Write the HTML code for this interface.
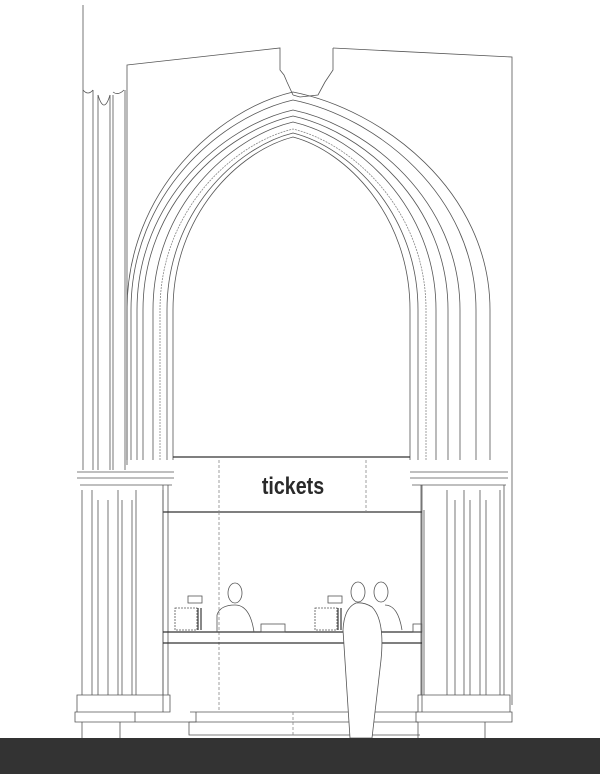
<!DOCTYPE html>
<html><head><meta charset="utf-8"><style>
html,body{margin:0;padding:0;background:#fff}
svg{display:block}
</style></head><body>
<svg id="s" width="600" height="774" viewBox="0 0 600 774" xmlns="http://www.w3.org/2000/svg">
<rect width="600" height="774" fill="#fff"/>
<g id="arches" fill="none" stroke="#555" stroke-width="0.8"></g>
<g fill="none" stroke="#555" stroke-width="0.8">
<path d="M83 5 V90"/>
<path d="M127 465 V65 L280 48 V70 L284 75 L287 82 L293 95"/>
<path d="M333 48 L512 57 V705"/>
<path d="M333 48 V70 L329 76 L325 82 L318 95 L300 97 L293 95"/>
<path d="M83 90 V470 M93 90 V470 M98 95 V470 M110 95 V470 M113 95 V470 M125 90 V470"/>
<path d="M83 90 Q88 96 93 90 M98 95 Q104 115 110 95 M113 92 Q118 96 124 90"/>
<path d="M77 472 H174 M77 478 H174 M80 485 H172 M410 472 H508 M410 478 H508 M412 485 H506"/>
<path d="M82 490 V695 M92 490 V695 M98 500 V695 M108 500 V695 M118 490 V695 M122 500 V695 M132 500 V695 M136 490 V695 M163 490 V695 M168 485 V695"/>
<path d="M421 485 V695 M424 510 V695 M447 490 V695 M455 500 V695 M464 490 V695 M470 500 V695 M480 490 V695 M486 500 V695 M500 490 V695 M504 485 V695"/>
<path d="M77 695 H170 V712 H77 Z M75 712 H135 V722 H75 Z M82 722 V738 M120 722 V738 M120 722 H196 V712"/>
<path d="M418 695 H510 V712 H418 Z M416 712 H512 V722 H416 Z M418 722 V738 M485 722 V738"/>
<path d="M190 712 H418 M189 722 H418 M189 722 V735 H420"/>
<path d="M173 457 H410" stroke="#333" stroke-width="1.2"/>
<path d="M163 512 H422" stroke="#333" stroke-width="1.2"/>
<path d="M219 460 V512 M366 460 V512 M219 512 V712 M293 712 V735" stroke-dasharray="3 2" stroke="#888"/>
<path d="M163 485 V712 M422 485 V712"/>
<path d="M163 632 H422 M163 643 H422" stroke="#333" stroke-width="1.2"/>
<ellipse cx="235" cy="593" rx="7" ry="10"/>
<path d="M217 632 V615 Q220 605 235 605 Q250 605 254 632"/>
<ellipse cx="381" cy="592" rx="7" ry="10"/>
<path d="M385 605 Q398 605 402 630"/>
<rect x="188" y="596" width="14" height="7"/>
<rect x="175" y="608" width="22" height="22" stroke-dasharray="2 1"/>
<path d="M198 608 V630 M201 608 V630" stroke-width="1.4"/>
<rect x="328" y="596" width="14" height="7"/>
<rect x="315" y="608" width="22" height="22" stroke-dasharray="2 1"/>
<path d="M338 608 V630 M341 608 V630" stroke-width="1.4"/>
<rect x="261" y="624" width="24" height="8"/>
<rect x="413" y="624" width="9" height="8"/>
</g>
<path d="M356 603 Q344 608 343 630 L350 738 L372 738 L381 660 Q385 620 372 607 Q364 602 356 603 Z" fill="#fff" stroke="#555" stroke-width="0.8"/>
<ellipse cx="358" cy="592" rx="7" ry="10" fill="#fff" stroke="#555" stroke-width="0.8"/>
<text x="293" y="494" text-anchor="middle" font-family="'Liberation Sans Narrow','Liberation Sans',sans-serif" font-weight="bold" font-size="24" fill="#2a2a2a" transform="translate(293 0) scale(0.82 1) translate(-293 0)">tickets</text>
<rect x="0" y="738" width="600" height="36" fill="#333"/>
</svg>
<script>
(function(){
var g=document.getElementById('arches');
var rings=[[173,410,137,0],[167,418,133,0],[160,426,129,1],[153,436,122,0],[143,448,116,0],[137,460,110,0],[131,476,100,0],[127,490,92,0]];
var ax=293,sy=310;
rings.forEach(function(r){
 var L=r[0],R=r[1],A=r[2],h=sy-A;
 var d='M'+L+' 460 V'+sy+' C'+L+' '+(A+0.45*h)+' '+(L+0.55*(ax-L))+' '+(A+0.08*h)+' '+ax+' '+A+
 ' C'+(ax+0.45*(R-ax))+' '+(A+0.08*h)+' '+R+' '+(A+0.45*h)+' '+R+' '+sy+' V460';
 var p=document.createElementNS('http://www.w3.org/2000/svg','path');
 p.setAttribute('d',d);
 if(r[3]){p.setAttribute('stroke','#888');p.setAttribute('stroke-dasharray','2 1');}
 g.appendChild(p);
});
})();
</script>
</body></html>
